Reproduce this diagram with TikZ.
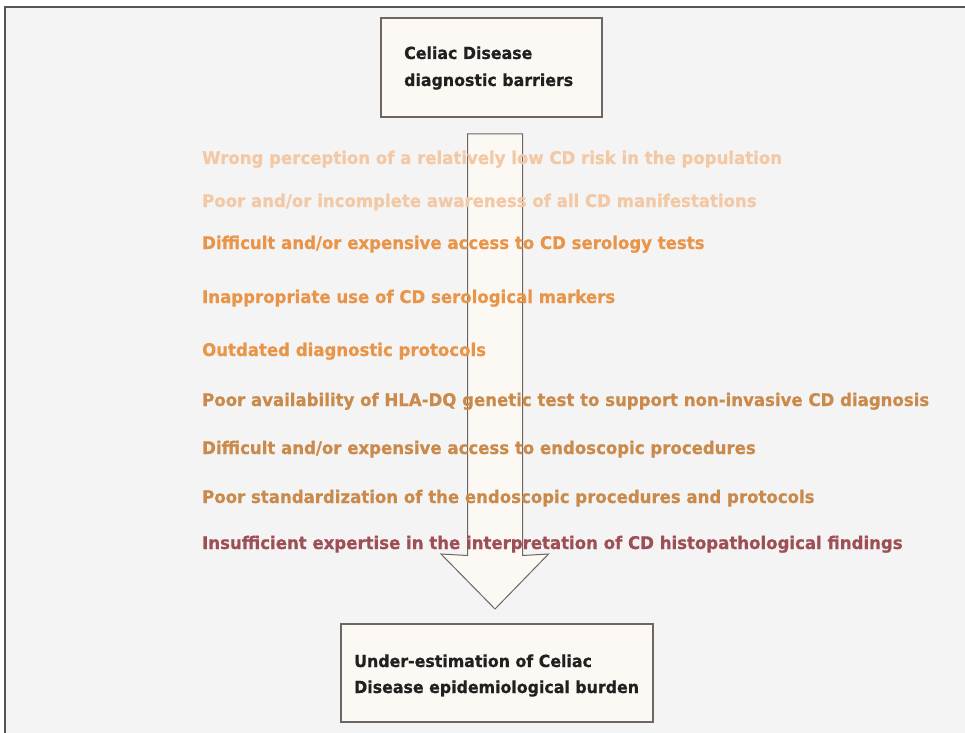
\documentclass[tikz,border=0pt]{standalone}
\usepackage{fontspec}
\setmainfont{DejaVu Sans}
\newfontfamily\barfont{DejaVu Sans Bold}[FakeStretch=0.95,FakeBold=0.6]
\definecolor{bgc}{HTML}{F4F4F4}
\definecolor{frm}{HTML}{555555}
\definecolor{cream}{HTML}{FCF8F3}
\definecolor{boxline}{HTML}{6E6662}
\definecolor{txtdark}{HTML}{231F20}
\definecolor{cpeach}{HTML}{F3C8A5}
\definecolor{corange}{HTML}{E8954A}
\definecolor{ctan}{HTML}{C98A4B}
\definecolor{cred}{HTML}{9E4F55}
\begin{document}
\begin{tikzpicture}[x=1bp,y=-1bp,
  barrier/.style={anchor=base west,inner sep=0pt,font=\barfont\fontsize{17.5}{21}\selectfont},
  boxtxt/.style={anchor=base west,inner sep=0pt,text=txtdark,font=\barfont\fontsize{16.7}{20}\selectfont},
  mainbox/.style={draw=boxline,fill=cream,line width=1.1bp}]
\useasboundingbox (0,0) rectangle (965,733);
\fill[white] (0,0) rectangle (965,733);
\fill[bgc] (5,7) rectangle (966,734);
\draw[frm,line width=1.4bp] (5,734) -- (5,7) -- (966,7);
% boxes
\draw[mainbox] (381,18) rectangle (602,117);
\node[boxtxt] (t1) at (404,59) {Celiac Disease};
\node[boxtxt] (t2) at (404,86) {diagnostic barriers};
\draw[mainbox] (341,624) rectangle (653,722);
\node[boxtxt] (b1) at (354,667) {Under-estimation of Celiac};
\node[boxtxt] (b2) at (354,693) {Disease epidemiological burden};
% arrow
\draw[draw=boxline,fill=cream,line width=1bp,line join=miter]
  (467.5,134) -- (522.5,134) -- (522.5,555.5) -- (548.5,554) -- (495,609) -- (441,554) -- (467.5,555.5) -- cycle;
% barriers
\node[barrier,text=cpeach] (l1) at (202,164) {Wrong perception of a relatively low CD risk in the population};
\node[barrier,text=cpeach] (l2) at (202,207) {Poor and/or incomplete awareness of all CD manifestations};
\node[barrier,text=corange] (l3) at (202,249) {Difficult and/or expensive access to CD serology tests};
\node[barrier,text=corange] (l4) at (202,303) {Inappropriate use of CD serological markers};
\node[barrier,text=corange] (l5) at (202,356) {Outdated diagnostic protocols};
\node[barrier,text=ctan] (l6) at (202,406) {Poor availability of HLA-DQ genetic test to support non-invasive CD diagnosis};
\node[barrier,text=ctan] (l7) at (202,454) {Difficult and/or expensive access to endoscopic procedures};
\node[barrier,text=ctan] (l8) at (202,503) {Poor standardization of the endoscopic procedures and protocols};
\node[barrier,text=cred] (l9) at (202,549) {Insufficient expertise in the interpretation of CD histopathological findings};
\end{tikzpicture}
\end{document}
